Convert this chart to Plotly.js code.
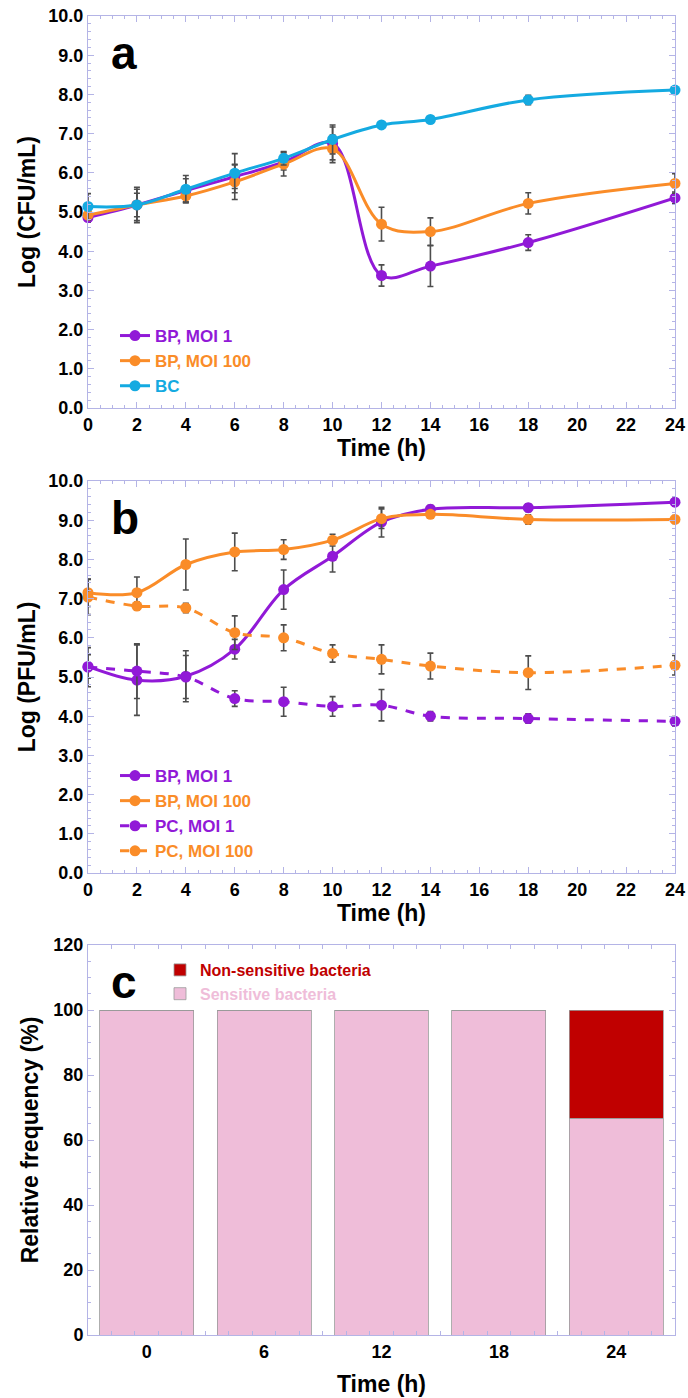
<!DOCTYPE html>
<html>
<head>
<meta charset="utf-8">
<script src="https://cdn.plot.ly/plotly-3.0.1.min.js"></script>
<style>html,body{margin:0;padding:0;background:#fff}#chart{width:688px;height:1398px}</style>
</head>
<body>
<div id="chart"></div>
<script>
// ---- data ----
const timesA = [0, 2, 4, 6, 8, 10, 12, 14, 18, 24];
const aBP1 = [4.86, 5.18, 5.55, 5.90, 6.27, 6.75, 3.38, 3.62, 4.22, 5.36];
const aBP1Err = [0.12, 0.30, 0.30, 0.30, 0.20, 0.42, 0.27, 0.52, 0.20, 0.15];
const aBP100 = [4.92, 5.18, 5.41, 5.77, 6.22, 6.61, 4.69, 4.50, 5.22, 5.73];
const aBP100Err = [0.12, 0.40, 0.15, 0.45, 0.30, 0.35, 0.43, 0.35, 0.27, 0.25];
const aBC = [5.14, 5.18, 5.58, 5.99, 6.37, 6.85, 7.22, 7.36, 7.86, 8.11];
const aBCErr = [0.33, 0.45, 0.35, 0.50, 0.17, 0.37, 0.05, 0.05, 0.12, 0.05];

const timesB = [0, 2, 4, 6, 8, 10, 12, 14, 18, 24];
const bBP1 = [5.27, 4.92, 5.02, 5.71, 7.23, 8.08, 8.95, 9.28, 9.32, 9.46];
const bBP1Err = [0.30, 0.90, 0.65, 0.25, 0.50, 0.40, 0.38, 0.10, 0.10, 0.10];
const bBP100 = [7.15, 7.15, 7.87, 8.19, 8.25, 8.49, 9.04, 9.15, 9.02, 9.02];
const bBP100Err = [0.35, 0.40, 0.65, 0.48, 0.25, 0.15, 0.25, 0.08, 0.12, 0.10];
const bPC1 = [5.25, 5.15, 5.00, 4.45, 4.37, 4.25, 4.28, 4.00, 3.94, 3.87];
const bPC1Err = [0.50, 0.70, 0.55, 0.20, 0.37, 0.25, 0.40, 0.12, 0.12, 0.12];
const bPC100 = [7.04, 6.81, 6.76, 6.13, 6.00, 5.60, 5.45, 5.28, 5.11, 5.30];
const bPC100Err = [0.45, 0.10, 0.12, 0.43, 0.33, 0.22, 0.37, 0.33, 0.43, 0.25];

const timesC = [0, 6, 12, 18, 24];
const timeLabelsC = ['0', '6', '12', '18', '24'];
const sensitive = [100, 100, 100, 100, 66.7];
const nonSensitive = [0, 0, 0, 0, 33.3];

const namesA = ['BP, MOI 1', 'BP, MOI 100', 'BC'];
const namesB = ['BP, MOI 1', 'BP, MOI 100', 'PC, MOI 1', 'PC, MOI 100'];
const namesC = ['Sensitive bacteria', 'Non-sensitive bacteria'];

// ---- styles ----
const PURPLE = '#9119d7', ORANGE = '#fa8c28', BLUE = '#14aae1';
const RED = '#c00000', PINK = '#efbdd9';
const AX = '#b4b4e6';
const FONT = 'Liberation Sans, Arial, Helvetica, sans-serif';

function colored(name, c) { return '<span style="color:' + c + '">' + name + '</span>'; }
function err(arr) { return {type: 'data', array: arr, visible: true, color: '#4d4d4d', thickness: 1.6, width: 3}; }
function line(x, y, e, name, color, dash, xa, ya, lg) {
  return {
    x: x, y: y, type: 'scatter', mode: 'lines+markers', name: colored(name, color),
    line: {color: color, width: 3, shape: 'spline', smoothing: 1, dash: dash},
    marker: {color: color, size: 11},
    error_y: err(e), xaxis: xa, yaxis: ya, legend: lg, cliponaxis: false
  };
}

const traces = [
  line(timesA, aBP1, aBP1Err, namesA[0], PURPLE, 'solid', 'x', 'y', 'legend'),
  line(timesA, aBP100, aBP100Err, namesA[1], ORANGE, 'solid', 'x', 'y', 'legend'),
  line(timesA, aBC, aBCErr, namesA[2], BLUE, 'solid', 'x', 'y', 'legend'),
  line(timesB, bBP1, bBP1Err, namesB[0], PURPLE, 'solid', 'x2', 'y2', 'legend2'),
  line(timesB, bBP100, bBP100Err, namesB[1], ORANGE, 'solid', 'x2', 'y2', 'legend2'),
  line(timesB, bPC1, bPC1Err, namesB[2], PURPLE, 'dash', 'x2', 'y2', 'legend2'),
  line(timesB, bPC100, bPC100Err, namesB[3], ORANGE, 'dash', 'x2', 'y2', 'legend2'),
  {x: timesC, y: sensitive, type: 'bar', name: colored(namesC[0], PINK), width: 4.8,
   marker: {color: PINK, line: {color: '#9a9a9a', width: 0.8}}, xaxis: 'x3', yaxis: 'y3', legend: 'legend3'},
  {x: timesC, y: nonSensitive, type: 'bar', name: colored(namesC[1], RED), width: 4.8,
   marker: {color: RED, line: {color: '#9a9a9a', width: 0.8}}, xaxis: 'x3', yaxis: 'y3', legend: 'legend3'}
];

const tickFont = {family: FONT, size: 18, color: '#000', weight: 'bold'};
const titleFont = {family: FONT, size: 23, color: '#000', weight: 'bold'};
const XD = [88 / 688, 675 / 688];
function py(p) { return 1 - p / 1398; }

function axisBase(extra) {
  return Object.assign({
    showline: true, linecolor: AX, linewidth: 1, mirror: 'ticks',
    ticks: 'inside', ticklen: 6, tickcolor: AX, tickwidth: 1,
    showgrid: false, zeroline: false, tickfont: tickFont
  }, extra);
}

const layout = {
  width: 688, height: 1398,
  margin: {l: 0, r: 0, t: 0, b: 0},
  paper_bgcolor: '#fff', plot_bgcolor: '#fff',
  font: {family: FONT},
  barmode: 'stack',
  xaxis: axisBase({domain: XD, anchor: 'y', range: [0, 24], dtick: 2, tick0: 0,
    minor: {ticks: 'inside', ticklen: 3, dtick: 0.5, tickcolor: AX},
    title: {text: 'Time (h)', font: titleFont, standoff: 0}}),
  yaxis: axisBase({domain: [py(408), py(16)], anchor: 'x', range: [0, 10], dtick: 1, tickformat: '.1f',
    minor: {ticks: 'inside', ticklen: 3, dtick: 0.2, tickcolor: AX},
    title: {text: 'Log (CFU/mL)', font: titleFont, standoff: 6}}),
  xaxis2: axisBase({domain: XD, anchor: 'y2', range: [0, 24], dtick: 2, tick0: 0,
    minor: {ticks: 'inside', ticklen: 3, dtick: 0.5, tickcolor: AX},
    title: {text: 'Time (h)', font: titleFont, standoff: 0}}),
  yaxis2: axisBase({domain: [py(873), py(481)], anchor: 'x2', range: [0, 10], dtick: 1, tickformat: '.1f',
    minor: {ticks: 'inside', ticklen: 3, dtick: 0.2, tickcolor: AX},
    title: {text: 'Log (PFU/mL)', font: titleFont, standoff: 6}}),
  xaxis3: axisBase({domain: XD, anchor: 'y3', range: [-3, 27], tickmode: 'array',
    tickvals: timesC, ticktext: timeLabelsC, ticklen: 0,
    minor: {ticks: 'inside', ticklen: 4, tickmode: 'linear', tick0: -3, dtick: 1.2, tickcolor: AX},
    title: {text: 'Time (h)', font: titleFont, standoff: 15}}),
  yaxis3: axisBase({domain: [py(1335), py(945)], anchor: 'x3', range: [0, 120], dtick: 20,
    minor: {ticks: 'inside', ticklen: 3, dtick: 5, tickcolor: AX},
    title: {text: 'Relative frequency (%)', font: titleFont, standoff: 8}}),
  legend: {x: 115 / 688, y: py(318), xanchor: 'left', yanchor: 'top', bgcolor: 'rgba(0,0,0,0)',
    font: {family: FONT, size: 17, weight: 'bold'}, tracegroupgap: 0},
  legend2: {x: 115 / 688, y: py(758), xanchor: 'left', yanchor: 'top', bgcolor: 'rgba(0,0,0,0)',
    font: {family: FONT, size: 17, weight: 'bold'}, tracegroupgap: 0},
  legend3: {x: 160 / 688, y: py(953), xanchor: 'left', yanchor: 'top', bgcolor: 'rgba(0,0,0,0)',
    font: {family: FONT, size: 16, weight: 'bold'}, traceorder: 'reversed', tracegroupgap: 0},
  annotations: [
    {text: 'a', x: 0.035, y: 0.905, xref: 'x domain', yref: 'y domain', xanchor: 'left', yanchor: 'middle',
     showarrow: false, font: {family: FONT, size: 46, weight: 'bold', color: '#000'}},
    {text: 'b', x: 0.035, y: 0.905, xref: 'x2 domain', yref: 'y2 domain', xanchor: 'left', yanchor: 'middle',
     showarrow: false, font: {family: FONT, size: 46, weight: 'bold', color: '#000'}},
    {text: 'c', x: 0.035, y: 0.905, xref: 'x3 domain', yref: 'y3 domain', xanchor: 'left', yanchor: 'middle',
     showarrow: false, font: {family: FONT, size: 46, weight: 'bold', color: '#000'}}
  ],
  showlegend: true
};

Plotly.newPlot('chart', traces, layout, {displayModeBar: false, staticPlot: true});
</script>
</body>
</html>
